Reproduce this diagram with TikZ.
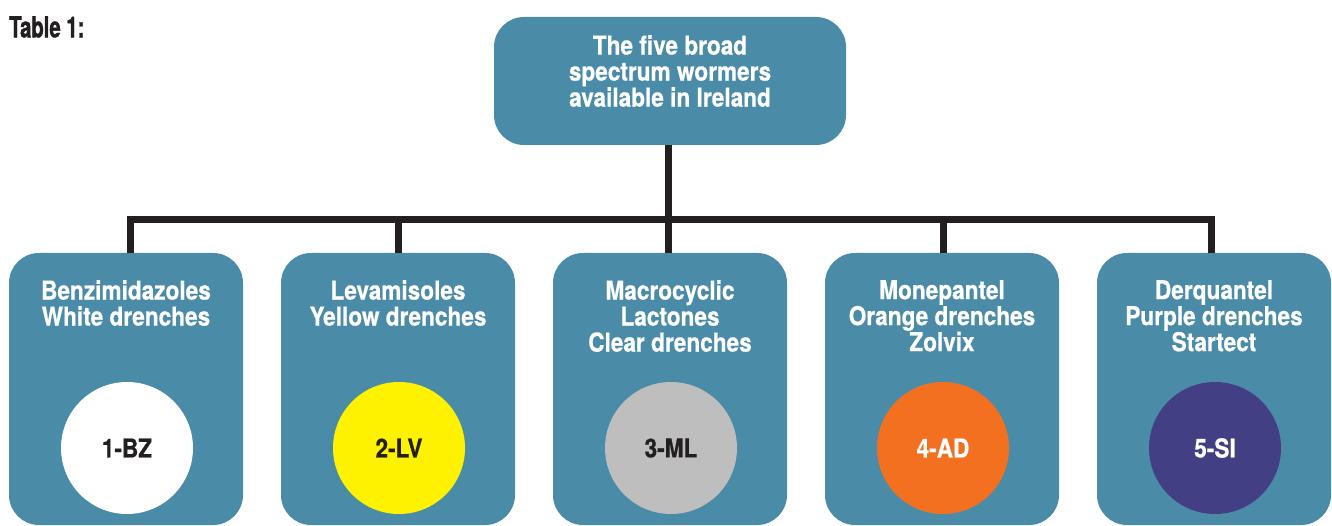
\documentclass[tikz,border=0pt]{standalone}
\usepackage{fontspec}
\setmainfont{TeX Gyre Heros}[FakeStretch=0.87, BoldFeatures={FakeBold=0.6}]
\newfontfamily\tabfont{TeX Gyre Heros}[FakeStretch=0.70, BoldFeatures={FakeBold=1.2}]
\definecolor{teal}{RGB}{74,140,168}
\definecolor{trunk}{RGB}{35,31,32}
\definecolor{cyel}{RGB}{255,242,0}
\definecolor{cgry}{RGB}{190,190,190}
\definecolor{corg}{RGB}{243,112,33}
\definecolor{cpur}{RGB}{67,63,133}
\tikzset{
  tbox/.style={fill=teal, rounded corners=30pt, minimum width=234pt, minimum height=272pt, inner sep=0pt},
  topbox/.style={fill=teal, rounded corners=30pt, minimum width=352pt, minimum height=128pt, inner sep=0pt},
  htext/.style={text=white, align=center, font=\bfseries\fontsize{26}{26}\selectfont, inner sep=0pt, anchor=north},
  disc/.style={circle, minimum size=132pt, inner sep=0pt, font=\bfseries\fontsize{26}{26}\selectfont},
  conn/.style={draw=trunk, line width=7pt}
}
\begin{document}
\begin{tikzpicture}[x=1pt,y=-1pt]
\useasboundingbox (0,0) rectangle (1332,526);
\node[anchor=north west, inner sep=0pt, font=\tabfont\bfseries\fontsize{29}{30}\selectfont, text=trunk] (tab) at (9,16) {Table 1:};
% top
\node[topbox] (top) at (670,81) {};
\node[htext] (toptxt) at (670,35) {The five broad\\spectrum wormers\\available in Ireland};
% boxes
\node[tbox] (b1) at (126,389) {};
\node[tbox] (b2) at (398,389) {};
\node[tbox] (b3) at (670,389) {};
\node[tbox] (b4) at (942,389) {};
\node[tbox] (b5) at (1214,389) {};
\coordinate (hub) at (668,220);
\coordinate (h1) at (130,220);
\coordinate (h5) at (1211,220);
\draw[conn] (top.south -| hub) -- (hub);
\draw[conn, line cap=rect] (h1) -- (h5);
\draw[conn] (h1) -- (h1 |- b1.north);
\draw[conn] (398,220) -- (398,253);
\draw[conn] (hub) -- (hub |- b3.north);
\draw[conn] (943,220) -- (943,253);
\draw[conn] (h5) -- (h5 |- b5.north);
% header texts
\node[htext] (t1) at (126,280) {Benzimidazoles\\White drenches};
\node[htext] (t2) at (398,280) {Levamisoles\\Yellow drenches};
\node[htext] (t3) at (670,280) {Macrocyclic\\Lactones\\Clear drenches};
\node[htext] (t4) at (942,280) {Monepantel\\Orange drenches\\Zolvix};
\node[htext] (t5) at (1214,280) {Derquantel\\Purple drenches\\Startect};
% discs
\node[disc, fill=white, text=trunk] (c1) at (127,448) {1-BZ};
\node[disc, fill=cyel, text=trunk] (c2) at (399,448) {2-LV};
\node[disc, fill=cgry, text=trunk] (c3) at (671,448) {3-ML};
\node[disc, fill=corg, text=white] (c4) at (943,448) {4-AD};
\node[disc, fill=cpur, text=white] (c5) at (1215,448) {5-SI};
\end{tikzpicture}
\end{document}
